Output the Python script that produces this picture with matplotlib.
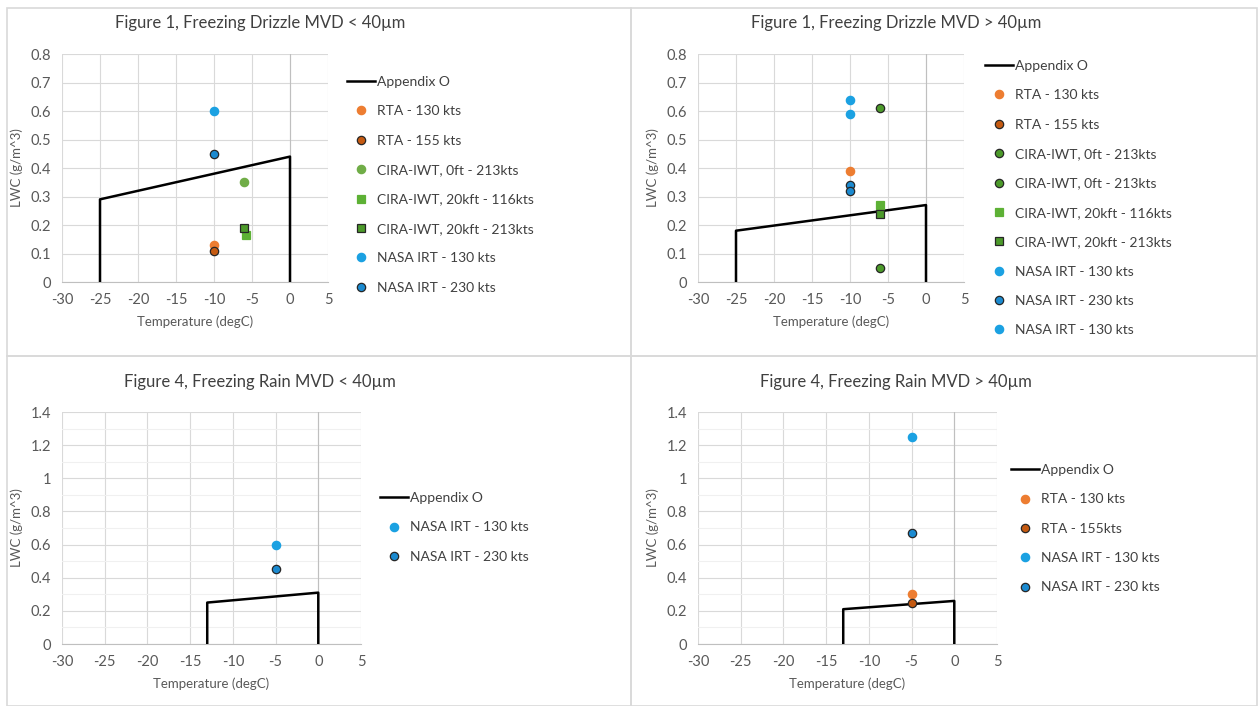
import matplotlib.pyplot as plt
from matplotlib.patches import Rectangle

plt.rcParams['font.family'] = ['Lato', 'DejaVu Sans']
plt.rcParams['axes.unicode_minus'] = False

# ---- data ----
# Appendix O envelopes (temperature, LWC)
fzdz_lt40_env_t = [-25, -25, 0, 0]
fzdz_lt40_env_lwc = [0, 0.29, 0.44, 0]
fzdz_gt40_env_t = [-25, -25, 0, 0]
fzdz_gt40_env_lwc = [0, 0.18, 0.27, 0]
fzra_lt40_env_t = [-13, -13, 0, 0]
fzra_lt40_env_lwc = [0, 0.25, 0.31, 0]
fzra_gt40_env_t = [-13, -13, 0, 0]
fzra_gt40_env_lwc = [0, 0.21, 0.26, 0]

# test points: (label, temps, lwcs)
fzdz_lt40_pts = [
    ('RTA - 130 kts', [-10], [0.13]),
    ('RTA - 155 kts', [-10], [0.11]),
    ('CIRA-IWT, 0ft - 213kts', [-6], [0.35]),
    ('CIRA-IWT, 20kft - 116kts', [-5.8], [0.165]),
    ('CIRA-IWT, 20kft - 213kts', [-6], [0.19]),
    ('NASA IRT - 130 kts', [-10], [0.60]),
    ('NASA IRT - 230 kts', [-10], [0.45]),
]
fzdz_gt40_pts = [
    ('RTA - 130 kts', [-10], [0.39]),
    ('RTA - 155 kts', [], []),
    ('CIRA-IWT, 0ft - 213kts', [-6], [0.61]),
    ('CIRA-IWT, 0ft - 213kts', [-6], [0.05]),
    ('CIRA-IWT, 20kft - 116kts', [-6], [0.27]),
    ('CIRA-IWT, 20kft - 213kts', [-6], [0.24]),
    ('NASA IRT - 130 kts', [-10], [0.64]),
    ('NASA IRT - 230 kts', [-10, -10], [0.34, 0.32]),
    ('NASA IRT - 130 kts', [-10], [0.59]),
]
fzra_lt40_pts = [
    ('NASA IRT - 130 kts', [-5], [0.60]),
    ('NASA IRT - 230 kts', [-5], [0.45]),
]
fzra_gt40_pts = [
    ('RTA - 130 kts', [-5], [0.30]),
    ('RTA - 155kts', [-5], [0.25]),
    ('NASA IRT - 130 kts', [-5], [1.25]),
    ('NASA IRT - 230 kts', [-5], [0.67]),
]

# marker styles keyed by series name
styles = {
    'RTA - 130 kts': dict(marker='o', mfc='#ED7D31', mec='#ED7D31'),
    'RTA - 155 kts': dict(marker='o', mfc='#C55A11', mec='#262626'),
    'RTA - 155kts': dict(marker='o', mfc='#C55A11', mec='#262626'),
    'CIRA-IWT, 0ft - 213kts': dict(marker='o', mfc='#70AD47', mec='#70AD47'),
    'CIRA-IWT, 20kft - 116kts': dict(marker='s', mfc='#5DB135', mec='#5DB135'),
    'CIRA-IWT, 20kft - 213kts': dict(marker='s', mfc='#4C9A2A', mec='#262626'),
    'NASA IRT - 130 kts': dict(marker='o', mfc='#1BA1E2', mec='#1BA1E2'),
    'NASA IRT - 230 kts': dict(marker='o', mfc='#1B8AD0', mec='#262626'),
}
dark_cira = dict(marker='o', mfc='#4C9A2A', mec='#262626')

W, H = 1259, 706
fig = plt.figure(figsize=(W / 100, H / 100), dpi=100)

# panel borders
for x0, y0, x1, y1 in [(7, 8, 631, 356), (631, 8, 1257, 356),
                       (7, 356, 631, 706), (631, 356, 1257, 706)]:
    fig.add_artist(Rectangle((x0 / W, 1 - y1 / H), (x1 - x0) / W, (y1 - y0) / H,
                             transform=fig.transFigure, fill=False,
                             edgecolor='#D9D9D9', lw=1.2))


def make_panel(box, title, title_xy, env_t, env_lwc, pts, ymax, ystep,
               leg_xy, dark=False, minor=False):
    l, t, r, b = box
    ax = fig.add_axes([l / W, 1 - b / H, (r - l) / W, (b - t) / H])
    ax.set_xlim(-30, 5)
    ax.set_ylim(0, ymax)
    ax.set_xticks(range(-30, 6, 5))
    yt = [round(i * ystep, 2) for i in range(int(round(ymax / ystep)) + 1)]
    ax.set_yticks(yt)
    ax.set_yticklabels(['0' if v == 0 else ('%g' % v) for v in yt])
    if minor:
        ax.set_yticks([round(i * 0.1, 2) for i in range(int(ymax * 10) + 1)], minor=True)
        ax.grid(True, which='minor', axis='y', color='#F0F0F0', lw=0.8)
    ax.grid(True, which='major', color='#D9D9D9', lw=0.8)
    ax.set_axisbelow(True)
    for s in ['top', 'right', 'left']:
        ax.spines[s].set_visible(False)
    ax.spines['bottom'].set_color('#BFBFBF')
    ax.axvline(0, color='#BFBFBF', lw=0.8, zorder=1)
    ax.tick_params(which='both', length=0, labelsize=10.5, labelcolor='#595959', pad=8)
    ax.set_xlabel('Temperature (degC)', fontsize=9.5, color='#595959', labelpad=6)
    ax.set_ylabel('LWC (g/m^3)', fontsize=9.5, color='#595959', labelpad=5)

    handles = []
    ln, = ax.plot(env_t, env_lwc, color='black', lw=1.8, label='Appendix O', zorder=3)
    handles.append(ln)
    for name, xs, ys in pts:
        st = styles[name]
        if dark and name.startswith('CIRA-IWT, 0ft'):
            st = dark_cira
        h, = ax.plot(xs, ys, ls='none', markersize=6, mew=0.9, label=name,
                     zorder=4, **st)
        handles.append(h)

    fig.text(title_xy[0] / W, 1 - title_xy[1] / H, title, ha='center', va='center',
             fontsize=12, color='#404040')
    fig.legend(handles=handles, loc='upper left',
               bbox_to_anchor=(leg_xy[0] / W, 1 - leg_xy[1] / H),
               frameon=False, fontsize=10, labelspacing=1.25, handlelength=2.0,
               handletextpad=0.15, borderaxespad=0, borderpad=0,
               labelcolor='#404040')
    return ax


make_panel((62, 54, 328, 282), 'Figure 1, Freezing Drizzle MVD < 40µm', (260, 23),
           fzdz_lt40_env_t, fzdz_lt40_env_lwc, fzdz_lt40_pts, 0.8, 0.1,
           (347, 76))
make_panel((698, 54, 964, 282), 'Figure 1, Freezing Drizzle MVD > 40µm', (896, 23),
           fzdz_gt40_env_t, fzdz_gt40_env_lwc, fzdz_gt40_pts, 0.8, 0.1,
           (985, 60), dark=True)
make_panel((62, 412, 361, 644), 'Figure 4, Freezing Rain MVD < 40µm', (260, 382),
           fzra_lt40_env_t, fzra_lt40_env_lwc, fzra_lt40_pts, 1.4, 0.2,
           (380, 492), minor=True)
make_panel((698, 412, 997, 644), 'Figure 4, Freezing Rain MVD > 40µm', (896, 382),
           fzra_gt40_env_t, fzra_gt40_env_lwc, fzra_gt40_pts, 1.4, 0.2,
           (1011, 464), minor=True)

fig.savefig('out.png', dpi=100)
